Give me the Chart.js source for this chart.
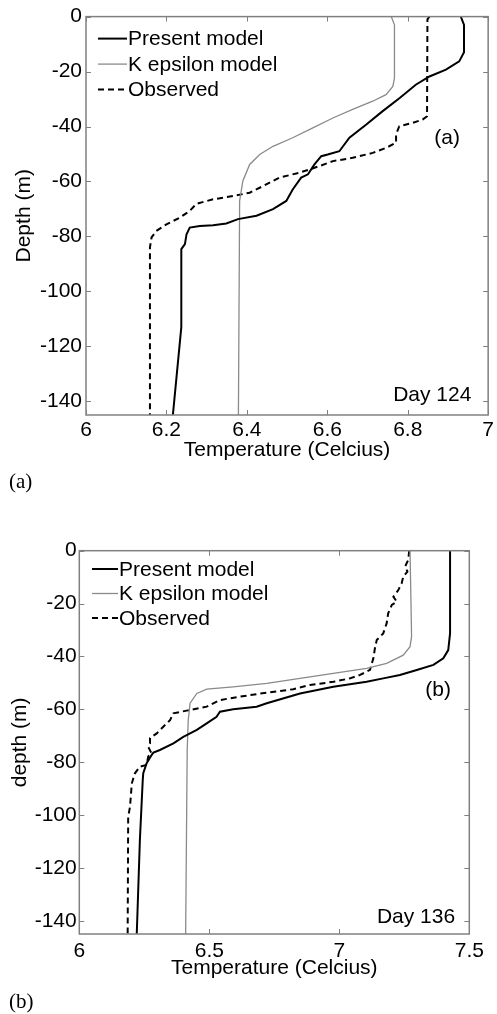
<!DOCTYPE html>
<html>
<head>
<meta charset="utf-8">
<script src="https://cdn.jsdelivr.net/npm/chart.js@4.4.1/dist/chart.umd.min.js"></script>
<style>
  body { margin: 0; background: #fff; width: 497px; height: 1014px; position: relative; overflow: hidden; }
  canvas { position: absolute; left: 0; }
  #chartA { top: 0; }
  #chartB { top: 520px; }
  .cap { position: absolute; left: 9px; font: 21px "Liberation Serif", "Times New Roman", serif; line-height: 21px; color: #000; }
</style>
</head>
<body>
<canvas id="chartA" width="497" height="470"></canvas>
<div class="cap" style="top:471px">(a)</div>
<canvas id="chartB" width="497" height="470"></canvas>
<div class="cap" style="top:991px">(b)</div>
<script>
// labels
const seriesNames = ['Present model', 'K epsilon model', 'Observed'];
const depthTicks = [0, -20, -40, -60, -80, -100, -120, -140];
const tempTicksA = [6, 6.2, 6.4, 6.6, 6.8, 7];
const tempTicksB = [6, 6.5, 7, 7.5];

// Day 124 (a)
const presentDepthA = [0, -3, -13, -16.3, -19.3, -21.8, -24.8, -29.6, -34.5, -39.3, -44.1, -49, -50.2, -50.8, -53.8, -57.4, -58.6, -62.9, -67.1, -70.1, -72.5, -73.7, -75.3, -75.9, -76.2, -76.8, -79.2, -82.8, -84.6, -113, -145];
const presentTempA = [6.932, 6.94, 6.94, 6.928, 6.895, 6.854, 6.82, 6.78, 6.737, 6.697, 6.655, 6.63, 6.601, 6.585, 6.568, 6.552, 6.535, 6.514, 6.498, 6.465, 6.424, 6.378, 6.349, 6.316, 6.283, 6.258, 6.25, 6.246, 6.237, 6.237, 6.216];
const kepsDepthA = [0, -3, -22.4, -25.4, -28.4, -30.8, -33.8, -36.9, -40.5, -44.1, -47.2, -50.2, -53.8, -59.8, -67.1, -145];
const kepsTempA = [6.759, 6.767, 6.767, 6.763, 6.746, 6.713, 6.663, 6.614, 6.564, 6.514, 6.465, 6.432, 6.407, 6.39, 6.382, 6.379];
const obsDepthA = [0, -1, -36.3, -37.5, -38.7, -39.9, -42.9, -45.9, -47.8, -49.6, -51.4, -52.6, -54.4, -56.8, -58.6, -61.7, -64.1, -65.3, -66.5, -68.1, -70.7, -73.2, -75.6, -78, -80.4, -84, -145];
const obsTempA = [6.854, 6.849, 6.848, 6.837, 6.812, 6.779, 6.771, 6.771, 6.746, 6.713, 6.663, 6.614, 6.581, 6.531, 6.481, 6.44, 6.407, 6.366, 6.316, 6.275, 6.258, 6.233, 6.2, 6.175, 6.163, 6.159, 6.159];

// Day 136 (b)
const presentDepthB = [0, -31.3, -37.6, -40.7, -43.2, -45.1, -47, -48.3, -49.6, -51.5, -54, -57.7, -59, -60, -60.9, -62.8, -65.3, -67.8, -70.4, -72.9, -75.4, -76.4, -77.3, -80.4, -84.2, -86.8, -109.5, -145];
const presentTempB = [7.426, 7.426, 7.419, 7.4, 7.362, 7.298, 7.233, 7.169, 7.105, 6.977, 6.849, 6.721, 6.682, 6.592, 6.541, 6.528, 6.49, 6.452, 6.4, 6.362, 6.31, 6.285, 6.278, 6.259, 6.246, 6.244, 6.233, 6.221];
const kepsDepthB = [0, -32.5, -36.3, -39.5, -42.6, -44.5, -46.4, -48.3, -50.2, -51.5, -52.4, -54, -57.7, -64.1, -75.4, -145];
const kepsTempB = [7.272, 7.278, 7.272, 7.246, 7.182, 7.105, 6.977, 6.849, 6.721, 6.592, 6.49, 6.452, 6.426, 6.419, 6.415, 6.409];
const obsDepthB = [0, -3.5, -6, -7.9, -9.8, -12.3, -14.9, -17.4, -19.3, -20.5, -23.7, -27.5, -31.3, -33.8, -36.9, -40.7, -45.1, -47, -48.3, -49.6, -50.8, -52.4, -53.7, -55.2, -56.5, -59, -60.5, -61.5, -64.1, -66.6, -69.1, -70.9, -72.9, -74.2, -76.7, -77.9, -81, -81.7, -84.2, -88, -96.9, -100.6, -145];
const obsTempB = [7.269, 7.265, 7.253, 7.262, 7.246, 7.24, 7.227, 7.208, 7.221, 7.202, 7.188, 7.182, 7.169, 7.144, 7.137, 7.131, 7.118, 7.08, 7.041, 6.977, 6.887, 6.823, 6.721, 6.618, 6.541, 6.49, 6.413, 6.362, 6.349, 6.323, 6.298, 6.272, 6.272, 6.265, 6.278, 6.265, 6.259, 6.233, 6.214, 6.202, 6.195, 6.188, 6.186];

const FONT = '"Liberation Sans", Arial, Helvetica, sans-serif';
const FS = 21;

function pts(temps, depths) {
    return temps.map((t, i) => ({ x: t, y: depths[i] }));
}

// box, inward ticks, legend and notes, matlab style
const figPlugin = {
    id: 'fig',
    afterDatasetsDraw(chart, args, opts) {
        const ctx = chart.ctx;
        const a = chart.chartArea;
        const xs = chart.scales.x, ys = chart.scales.y;
        ctx.save();
        ctx.strokeStyle = '#808080';
        ctx.lineWidth = 1.5;
        ctx.strokeRect(a.left, a.top, a.right - a.left, a.bottom - a.top);
        ctx.lineWidth = 1;
        ctx.beginPath();
        xs.ticks.forEach(t => {
            const px = Math.round(xs.getPixelForValue(t.value)) + 0.5;
            ctx.moveTo(px, a.bottom); ctx.lineTo(px, a.bottom - 5);
            ctx.moveTo(px, a.top); ctx.lineTo(px, a.top + 5);
        });
        ys.ticks.forEach(t => {
            const py = Math.round(ys.getPixelForValue(t.value)) + 0.5;
            ctx.moveTo(a.left, py); ctx.lineTo(a.left + 5, py);
            ctx.moveTo(a.right, py); ctx.lineTo(a.right - 5, py);
        });
        ctx.stroke();

        ctx.font = FS + 'px ' + FONT;
        ctx.fillStyle = '#000';
        ctx.textBaseline = 'middle';
        ctx.textAlign = 'left';
        chart.data.datasets.forEach((ds, i) => {
            const y = a.top + opts.legendY + i * opts.rowGap;
            const x0 = a.left + opts.legendX;
            ctx.strokeStyle = ds.borderColor;
            ctx.lineWidth = ds.borderWidth;
            ctx.setLineDash(ds.borderDash || []);
            ctx.beginPath();
            ctx.moveTo(x0, y); ctx.lineTo(x0 + opts.lineLen, y);
            ctx.stroke();
            ctx.setLineDash([]);
            ctx.fillText(ds.label, x0 + opts.lineLen + 1, y + 1);
        });

        ctx.textAlign = 'center';
        opts.notes.forEach(n => {
            ctx.fillText(n.text, xs.getPixelForValue(n.x), ys.getPixelForValue(n.y));
        });
        ctx.restore();
    }
};

function makeChart(id, d, s) {
    const datasets = [
        { label: seriesNames[0], data: pts(d.presentT, d.presentD), borderColor: '#000', borderWidth: 2 },
        { label: seriesNames[1], data: pts(d.kepsT, d.kepsD), borderColor: '#8a8a8a', borderWidth: 1.3 },
        { label: seriesNames[2], data: pts(d.obsT, d.obsD), borderColor: '#000', borderWidth: 2, borderDash: [6, 4] }
    ];
    datasets.forEach(ds => { ds.showLine = true; ds.pointRadius = 0; ds.tension = 0; ds.fill = false; });

    return new Chart(document.getElementById(id), {
        type: 'scatter',
        data: { datasets },
        options: {
            responsive: false,
            animation: false,
            layout: { padding: { left: 0, top: s.top, right: s.right, bottom: 0 } },
            plugins: {
                legend: { display: false },
                tooltip: { enabled: false },
                fig: s.fig
            },
            scales: {
                x: {
                    type: 'linear',
                    min: d.xTicks[0],
                    max: d.xTicks[d.xTicks.length - 1],
                    afterBuildTicks: sc => { sc.ticks = d.xTicks.map(v => ({ value: v })); },
                    afterFit: sc => { sc.height = s.xHeight; },
                    grid: { display: false, drawTicks: false },
                    border: { display: false },
                    ticks: { color: '#000', padding: s.xPad, font: { family: FONT, size: FS }, callback: v => String(v), maxRotation: 0 },
                    title: { display: true, text: 'Temperature (Celcius)', color: '#000', font: { family: FONT, size: FS }, padding: { top: 0, bottom: s.xTitlePad } }
                },
                y: {
                    type: 'linear',
                    min: -145,
                    max: 0,
                    afterBuildTicks: sc => { sc.ticks = depthTicks.map(v => ({ value: v })); },
                    afterFit: sc => { sc.width = s.yWidth; },
                    grid: { display: false, drawTicks: false },
                    border: { display: false },
                    ticks: { color: '#000', padding: s.yPad, font: { family: FONT, size: FS }, callback: v => String(v) },
                    title: { display: true, text: s.yTitle, color: '#000', font: { family: FONT, size: FS }, padding: { top: s.yTitlePad, bottom: 0 } }
                }
            }
        },
        plugins: [figPlugin]
    });
}

makeChart('chartA', {
    presentT: presentTempA, presentD: presentDepthA,
    kepsT: kepsTempA, kepsD: kepsDepthA,
    obsT: obsTempA, obsD: obsDepthA,
    xTicks: tempTicksA
}, {
    top: 15, right: 8, xHeight: 55, yWidth: 86, xPad: 3, yPad: 4,
    xTitlePad: 7.4, yTitlePad: 12, yTitle: 'Depth (m)',
    fig: {
        legendX: 12, legendY: 22, rowGap: 25.5, lineLen: 29,
        notes: [{ text: '(a)', x: 6.898, y: -44.3 }, { text: 'Day 124', x: 6.861, y: -137.8 }]
    }
});

makeChart('chartB', {
    presentT: presentTempB, presentD: presentDepthB,
    kepsT: kepsTempB, kepsD: kepsDepthB,
    obsT: obsTempB, obsD: obsDepthB,
    xTicks: tempTicksB
}, {
    top: 30.7, right: 27.7, xHeight: 56, yWidth: 79.3, xPad: 5, yPad: 2.6,
    xTitlePad: 9.4, yTitlePad: 7.5, yTitle: 'depth (m)',
    fig: {
        legendX: 12.7, legendY: 18.3, rowGap: 24.5, lineLen: 26,
        notes: [{ text: '(b)', x: 7.38, y: -52.7 }, { text: 'Day 136', x: 7.295, y: -138.6 }]
    }
});
</script>
</body>
</html>
